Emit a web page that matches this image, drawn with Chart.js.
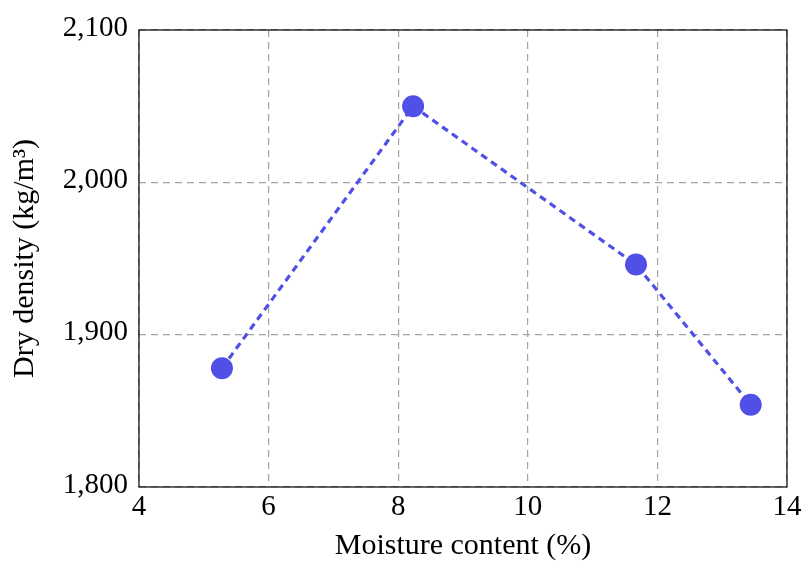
<!DOCTYPE html>
<html><head><meta charset="utf-8">
<script src="https://cdn.jsdelivr.net/npm/chart.js@4"></script>
<style>html,body{margin:0;padding:0;background:#fff}#wrap{width:805px;height:561px}</style>
</head><body><div id="wrap"><canvas id="c" width="805" height="561"></canvas></div>
<script>
const moisture = [5.28, 8.23, 11.67, 13.44];
const dryDensity = [1878, 2050, 1946, 1854];
const xTicks = [4, 6, 8, 10, 12, 14];
const yTicks = [1800, 1900, 2000, 2100];

const FONT = "'Liberation Serif', 'DejaVu Serif', serif";
const BLUE = 'rgb(80,80,230)';

const frame = {
  id: 'frame',
  afterDraw(chart) {
    const a = chart.chartArea, ctx = chart.ctx;
    ctx.save();
    ctx.strokeStyle = '#000';
    ctx.lineWidth = 1.2;
    ctx.strokeRect(a.left, a.top, a.right - a.left, a.bottom - a.top);
    ctx.restore();
  }
};

new Chart(document.getElementById('c'), {
  type: 'scatter',
  data: {
    datasets: [{
      data: moisture.map((x, i) => ({x, y: dryDensity[i]})),
      showLine: true,
      borderColor: BLUE,
      backgroundColor: BLUE,
      borderWidth: 3.2,
      borderDash: [7, 5],
      pointRadius: 11,
      pointHoverRadius: 11,
      pointBorderWidth: 0
    }]
  },
  options: {
    responsive: false,
    animation: false,
    layout: { padding: { left: 0, top: 30, right: 18, bottom: 0 } },
    plugins: { legend: { display: false }, tooltip: { enabled: false } },
    scales: {
      x: {
        type: 'linear', min: 4, max: 14,
        afterBuildTicks: s => { s.ticks = xTicks.map(v => ({value: v})); },
        afterFit: s => { s.height = 74; },
        grid: { color: 'rgb(165,165,165)', lineWidth: 1.2, drawTicks: false },
        border: { display: false, dash: [7, 5] },
        ticks: { color: '#000', font: { family: FONT, size: 29 }, padding: 3 },
        title: { display: true, text: 'Moisture content (%)', color: '#000', font: { family: FONT, size: 30, lineHeight: 1.0 }, padding: { top: 0, bottom: 0 } }
      },
      y: {
        type: 'linear', min: 1800, max: 2100,
        afterBuildTicks: s => { s.ticks = yTicks.map(v => ({value: v})); },
        afterFit: s => { s.width = 139; },
        grid: { color: 'rgb(165,165,165)', lineWidth: 1.2, drawTicks: false },
        border: { display: false, dash: [7, 5] },
        ticks: { color: '#000', font: { family: FONT, size: 29 }, padding: 11, labelOffset: -2,
          callback: v => v.toLocaleString('en-US') },
        title: { display: true, text: 'Dry density (kg/m³)', color: '#000', font: { family: FONT, size: 30, lineHeight: 1.0 }, padding: { top: 10, bottom: 0 } }
      }
    }
  },
  plugins: [frame]
});
</script></body></html>
